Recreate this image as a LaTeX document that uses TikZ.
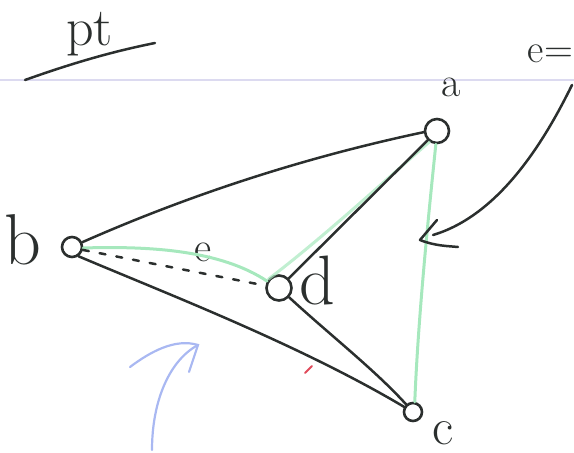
\documentclass[tikz,border=0pt]{standalone}
\usetikzlibrary{calc}
\definecolor{inkc}{HTML}{2B2F2E}
\definecolor{greenc}{HTML}{A6E8BD}
\definecolor{bluec}{HTML}{A9B8F2}
\definecolor{rulec}{HTML}{DCDAF0}
\definecolor{redc}{HTML}{E04A5A}
\begin{document}
\begin{tikzpicture}[x=1pt,y=-1pt,
  ink/.style={draw=inkc, line width=2.5pt, line cap=round, line join=round},
  vert/.style={circle, draw=inkc, line width=2.6pt, inner sep=0pt},
  lbl/.style={text=inkc, inner sep=2pt},
  hl/.style={draw=greenc, line width=3pt, line cap=round},
  blu/.style={draw=bluec, line width=2.2pt, line cap=round},
  dashink/.style={ink, dash pattern=on 6pt off 11pt}
]
\useasboundingbox (0,0) rectangle (574,453);
% ruled paper line
\draw[rulec, line width=1.2pt] (0,80) -- (574,80);

% title
\node[lbl, anchor=base west, font=\fontsize{54}{54}\selectfont] (pt) at (64,45) {pt};
\draw[ink] (25,80) .. controls (70,64) and (110,52) .. (155,43);

% top-right text
\node[lbl, anchor=base east, font=\fontsize{40}{40}\selectfont] (eq) at (575,62) {e=};

% vertices
\node[vert, minimum size=24pt] (a) at (437,131) {};
\node[vert, minimum size=20pt] (b) at (72,247) {};
\node[vert, minimum size=25pt] (d) at (279,288) {};
\node[vert, minimum size=18pt] (c) at (413,412) {};

% labels
\node[lbl, font=\fontsize{42}{42}\selectfont] (la) at (451,87) {a};
\node[lbl, font=\fontsize{72}{72}\selectfont] (lb) at (23,240) {b};
\node[lbl, font=\fontsize{70}{70}\selectfont] (ld) at (317,280) {d};
\node[lbl, font=\fontsize{52}{52}\selectfont] (lc) at (443,433) {c};
\node[lbl, font=\fontsize{42}{42}\selectfont] (le) at (203,252) {e};

% green highlight strokes
\draw[hl] (b.-5) .. controls (150,246) and (220,250) .. (d.150);
\draw[hl, opacity=0.7] (d.140) .. controls (320,240) and (380,185) .. (a.235);
\draw[hl] (a.265) .. controls (428,220) and (418,320) .. (c.80);

% black edges
\draw[ink] (b.25) .. controls (196,192) and (311,156) .. (a.185);
\draw[ink] (a) -- (d);
\draw[ink] (b.-55) .. controls (170,295) and (300,345) .. (c.150);
\draw[ink] (d) .. controls (330,335) and (375,370) .. (c);
\draw[dashink] (b.-15) -- (d.170);

% red tick
\draw[redc, line width=2pt, line cap=round] (305,373) -- (312,366);

% blue arrow
\coordinate (bs) at (152,450);
\coordinate (bt) at (198,345);
\draw[blu] (bs) .. controls (152,400) and (170,360) .. (bt);
\draw[blu] (130,367) .. controls (150,352) and (175,338) .. (bt) -- (189,372);

% black arrow
\coordinate (ks) at (572,85);
\coordinate (kt) at (433,235);
\draw[ink] (ks) .. controls (545,140) and (500,215) .. (kt);
\draw[ink] (437,220) -- (420,240) .. controls (435,246) and (448,246) .. (458,247);
\end{tikzpicture}
\end{document}
